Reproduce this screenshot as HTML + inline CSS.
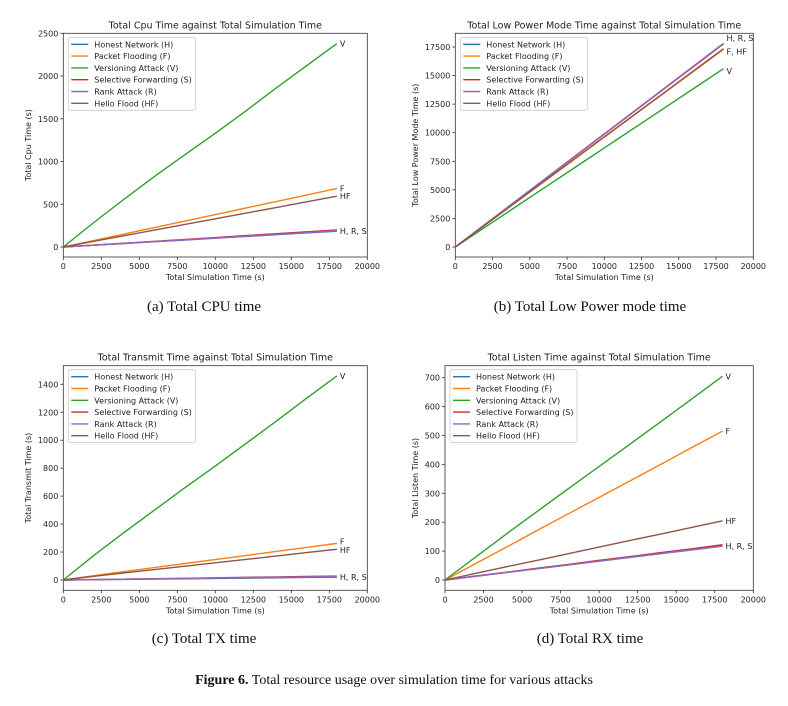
<!DOCTYPE html>
<html><head><meta charset="utf-8"><style>
body{margin:0;background:#fff;width:788px;height:706px;overflow:hidden;position:relative}
svg{position:absolute;left:0;top:0}
.cap{position:absolute;font-family:"Liberation Serif",serif;font-size:15px;color:#111;white-space:nowrap;transform:translateX(-50%)}
</style></head><body>
<svg id="fig" width="788" height="706"></svg>
<div class="cap" style="left:204px;top:299px">(a) Total CPU time</div>
<div class="cap" style="left:590px;top:299px">(b) Total Low Power mode time</div>
<div class="cap" style="left:204px;top:631px">(c) Total TX time</div>
<div class="cap" style="left:590px;top:631px">(d) Total RX time</div>
<div class="cap" style="left:394px;top:673px;font-size:14px"><b>Figure 6.</b> Total resource usage over simulation time for various attacks</div>
<script>
const times=[0,2000,4000,6000,8000,10000,12000,14000,16000,18000];
const seriesNames=["Honest Network (H)","Packet Flooding (F)","Versioning Attack (V)","Selective Forwarding (S)","Rank Attack (R)","Hello Flood (HF)"];
const xTicks=[0,2500,5000,7500,10000,12500,15000,17500,20000];
// chart a: CPU
const cpuH=[0,21,41,62,82,103,123,144,164,185];
const cpuF=[0,76,152,228,304,380,456,532,608,685];
const cpuV=[0,285,560,825,1080,1330,1590,1860,2120,2380];
const cpuS=[0,22,44,67,89,111,133,155,178,200];
const cpuR=[0,21,42,63,84,105,127,148,169,190];
const cpuHF=[0,66,132,198,264,330,396,462,528,595];
const cpuTicks=[0,500,1000,1500,2000,2500];
// chart b: LPM
const lpmH=[0,1978,3956,5933,7911,9889,11867,13844,15822,17800];
const lpmF=[0,1922,3844,5767,7689,9611,11533,13456,15378,17300];
const lpmV=[0,1733,3467,5200,6933,8667,10400,12133,13867,15600];
const lpmS=[0,1975,3950,5925,7900,9875,11850,13825,15800,17780];
const lpmR=[0,1980,3960,5940,7920,9900,11880,13860,15840,17820];
const lpmHF=[0,1928,3856,5783,7711,9639,11567,13494,15422,17350];
const lpmTicks=[0,2500,5000,7500,10000,12500,15000,17500];
// chart c: TX
const txH=[0,2,4,7,9,11,13,16,18,20];
const txF=[0,31,60,89,118,146,175,204,233,262];
const txV=[0,175,340,500,660,815,975,1135,1300,1460];
const txS=[0,3,6,9,12,16,19,22,25,28];
const txR=[0,3,6,8,11,14,17,19,22,25];
const txHF=[0,26,51,75,99,123,147,171,196,220];
const txTicks=[0,200,400,600,800,1000,1200,1400];
// chart d: RX
const rxH=[0,13,26,39,52,65,78,91,104,117];
const rxF=[0,57,114,172,229,286,343,400,458,515];
const rxV=[0,80,160,238,316,393,470,548,626,705];
const rxS=[0,14,27,41,54,68,81,95,108,122];
const rxR=[0,13,26,39,52,66,79,92,105,118];
const rxHF=[0,23,46,68,91,114,137,159,182,205];
const rxTicks=[0,100,200,300,400,500,600,700];

const colors=["#1f77b4","#ff7f0e","#2ca02c","#d62728","#9467bd","#8c564b"];
const NS="http://www.w3.org/2000/svg";
const svg=document.getElementById("fig");
function mk(tag,attrs,parent,text){const e=document.createElementNS(NS,tag);for(const k in attrs)e.setAttribute(k,attrs[k]);if(text!==undefined)e.textContent=text;(parent||svg).appendChild(e);return e;}
const F='"DejaVu Sans","Liberation Sans",sans-serif';

function chart(c){
  const g=mk("g",{});
  
  
  const xs=v=>c.x0+(v/20000)*(c.x1-c.x0);
  const ys=v=>c.yz+(v/c.yRef)*(c.yr-c.yz);
  const fr=mk("rect",{x:c.x0,y:c.top,width:c.x1-c.x0,height:c.bot-c.top,fill:"none",stroke:"#333","stroke-width":0.8},g);
  
  
  const t=mk("text",{x:(c.x0+c.x1)/2,y:c.top-5,"text-anchor":"middle","font-size":9.5,"font-family":F,fill:"#222"},g,c.title);
  
  
  xTicks.forEach(v=>{const x=xs(v);
    mk("line",{x1:x,x2:x,y1:c.bot,y2:c.bot+3,stroke:"#333","stroke-width":0.8},g);
    const l=mk("text",{x:x,y:c.bot+12,"text-anchor":"middle","font-size":8,"font-family":F,fill:"#222"},g,v);
    
    });
  c.yTicks.forEach(v=>{const y=ys(v);
    mk("line",{x1:c.x0-3,x2:c.x0,y1:y,y2:y,stroke:"#333","stroke-width":0.8},g);
    const l=mk("text",{x:c.x0-5,y:y+3,"text-anchor":"end","font-size":8,"font-family":F,fill:"#222"},g,v);
    
    });
  const xl=mk("text",{x:(c.x0+c.x1)/2,y:c.bot+23,"text-anchor":"middle","font-size":8,"font-family":F,fill:"#222"},g,"Total Simulation Time (s)");
  
  
  const ym=(c.top+c.bot)/2;
  const yl=mk("text",{x:c.ylx,y:ym,"text-anchor":"middle","font-size":8,"font-family":F,fill:"#222",transform:`rotate(-90 ${c.ylx} ${ym})`},g,c.ylabel);
  
  
  c.series.forEach((s,i)=>{
    const p=mk("polyline",{points:times.map((t,j)=>xs(t)+","+ys(s[j])).join(" "),fill:"none",stroke:colors[i],"stroke-width":1.4},g);
    
    
  });
  c.ann.forEach(a=>{
    const e=mk("text",{x:xs(18000)+3,y:ys(a[1])+3,"font-size":8,"font-family":F,fill:"#222"},g,a[0]);
    
    });
  const lx=c.x0+5, ly=c.top+4;
  const lb=mk("rect",{x:lx,y:ly,width:c.legW,height:73,fill:"#fff","fill-opacity":0.85,stroke:"#ccc","stroke-width":0.8,rx:2},g);
  
  
  seriesNames.forEach((n,i)=>{const y=ly+7+i*11.8;
    mk("line",{x1:lx+3,x2:lx+20,y1:y,y2:y,stroke:colors[i],"stroke-width":1.4},g);
    const e=mk("text",{x:lx+26,y:y+3,"font-size":8,"font-family":F,fill:"#222"},g,n);
    
    });
}
chart({name:"chart-cpu",title:"Total Cpu Time against Total Simulation Time",ylabel:"Total Cpu Time (s)",x0:63.3,x1:367.3,top:33.3,bot:257,yz:247,yr:33.3,yRef:2500,yTicks:cpuTicks,ylx:31,legW:127,
 series:[cpuH,cpuF,cpuV,cpuS,cpuR,cpuHF],ann:[["V",2380],["F",685],["HF",595],["H, R, S",190]]});
chart({name:"chart-lpm",title:"Total Low Power Mode Time against Total Simulation Time",ylabel:"Total Low Power Mode Time (s)",x0:455.3,x1:753.3,top:33.3,bot:257,yz:247,yr:47,yRef:17500,yTicks:lpmTicks,ylx:418,legW:127,
 series:[lpmH,lpmF,lpmV,lpmS,lpmR,lpmHF],ann:[["H, R, S",18300],["F, HF",17100],["V",15400]]});
chart({name:"chart-tx",title:"Total Transmit Time against Total Simulation Time",ylabel:"Total Transmit Time (s)",x0:63.3,x1:367.3,top:365.7,bot:590.3,yz:580,yr:384.3,yRef:1400,yTicks:txTicks,ylx:31,legW:127,
 series:[txH,txF,txV,txS,txR,txHF],ann:[["V",1460],["F",275],["HF",215],["H, R, S",20]]});
chart({name:"chart-rx",title:"Total Listen Time against Total Simulation Time",ylabel:"Total Listen Time (s)",x0:445,x1:753.3,top:365.7,bot:590.3,yz:580,yr:377.7,yRef:700,yTicks:rxTicks,ylx:418,legW:127,
 series:[rxH,rxF,rxV,rxS,rxR,rxHF],ann:[["V",705],["F",515],["HF",205],["H, R, S",117]]});
</script>
</body></html>
